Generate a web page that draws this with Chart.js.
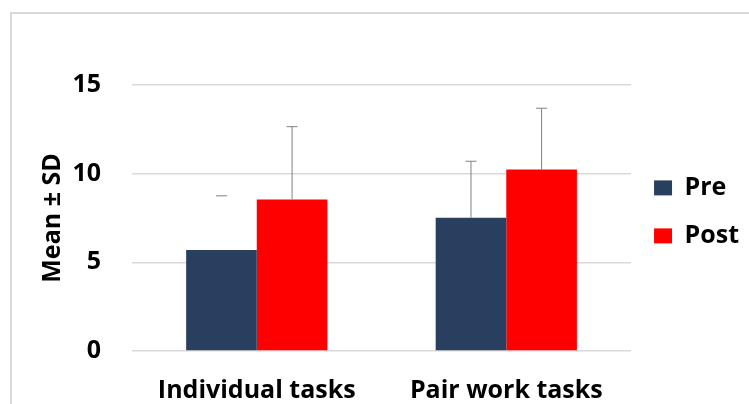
<!DOCTYPE html>
<html>
<head>
<meta charset="utf-8">
<script src="https://cdn.jsdelivr.net/npm/chart.js@4/dist/chart.umd.min.js"></script>
<style>
  body { margin: 0; background: #fff; overflow: hidden; }
  #frame { position: absolute; left: 10px; top: 12px; width: 780px; height: 430px; border: 2px solid #d9d9d9; }
  #wrap { position: absolute; left: 0; top: 0; width: 749px; height: 404px; }
</style>
</head>
<body>
<div id="frame"></div>
<div id="wrap"><canvas id="meanChart" width="749" height="404"></canvas></div>
<script>
// data
const categories = ['Individual tasks', 'Pair work tasks'];
const preMeans = [5.7, 7.52];
const postMeans = [8.55, 10.23];
const preSD = [3.05, 3.18];
const postSD = [4.1, 3.46];
const yTicks = [0, 5, 10, 15];

const FONT = 'Open Sans';
const FSIZE = 25;

// simple upward error bars (mean + SD)
const errorBars = {
    id: 'errorBars',
    afterDatasetsDraw(chart) {
        const ctx = chart.ctx, y = chart.scales.y;
        chart.data.datasets.forEach((ds, i) => {
            const meta = chart.getDatasetMeta(i);
            meta.data.forEach((bar, j) => {
                const top = y.getPixelForValue(ds.data[j] + ds.sd[j]);
                const base = y.getPixelForValue(ds.data[j]);
                ctx.save();
                ctx.strokeStyle = '#808080';
                ctx.lineWidth = 1;
                ctx.beginPath();
                if (ds.stem[j]) {
                    ctx.moveTo(bar.x, base);
                    ctx.lineTo(bar.x, top);
                }
                ctx.moveTo(bar.x - 5.5, top);
                ctx.lineTo(bar.x + 5.5, top);
                ctx.stroke();
                ctx.restore();
            });
        });
    }
};

var ctx = document.getElementById('meanChart').getContext('2d');
var meanChart = new Chart(ctx, {
    type: 'bar',
    data: {
        labels: categories,
        datasets: [{
            label: 'Pre',
            data: preMeans,
            sd: preSD,
            stem: [false, true],
            backgroundColor: '#293f5f',
            categoryPercentage: 0.566,
            barPercentage: 1
        }, {
            label: 'Post',
            data: postMeans,
            sd: postSD,
            stem: [true, true],
            backgroundColor: '#ff0000',
            categoryPercentage: 0.566,
            barPercentage: 1
        }]
    },
    options: {
        responsive: false,
        animation: false,
        layout: { padding: { left: 38, top: 85, right: 0, bottom: 0 } },
        plugins: {
            legend: {
                position: 'right',
                align: 'start',
                title: { display: true, text: ' ', padding: { top: 53, bottom: 0 } },
                labels: {
                    boxWidth: 18,
                    boxHeight: 15,
                    padding: 23,
                    color: '#000',
                    font: { family: FONT, size: FSIZE, weight: 'bold' }
                }
            },
            tooltip: { enabled: false }
        },
        scales: {
            x: {
                afterFit: axis => { axis.height = 53; },
                grid: { display: false, drawTicks: false },
                border: { display: false },
                ticks: { color: '#000', padding: 25, font: { family: FONT, size: FSIZE, weight: 'bold' } }
            },
            y: {
                min: 0,
                max: 15,
                afterFit: axis => { axis.width = 94; },
                afterBuildTicks: axis => { axis.ticks = yTicks.map(v => ({ value: v })); },
                grid: { color: '#d9d9d9', lineWidth: 1.5, drawTicks: false },
                border: { display: false },
                ticks: { color: '#000', padding: 31, font: { family: FONT, size: FSIZE, weight: 'bold' } },
                title: {
                    display: true,
                    text: 'Mean ± SD',
                    color: '#000',
                    padding: { top: 0, bottom: 4 },
                    font: { family: FONT, size: FSIZE, weight: 'bold' }
                }
            }
        }
    },
    plugins: [errorBars]
});
</script>
</body>
</html>
